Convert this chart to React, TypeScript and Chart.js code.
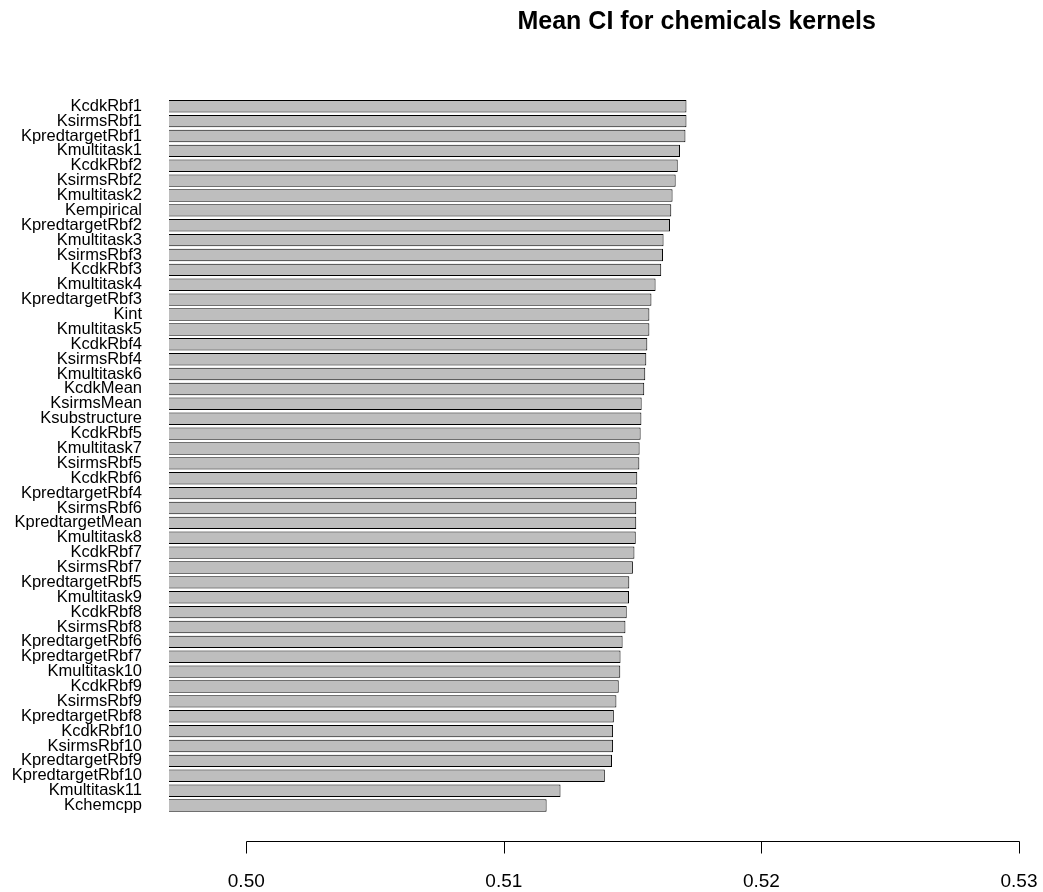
import React, { useEffect, useRef } from "react";
import { Chart, registerables } from "chart.js";

Chart.register(...registerables);

const TITLE = "Mean CI for chemicals kernels";

const kernelNames: string[] = [
  "KcdkRbf1", "KsirmsRbf1", "KpredtargetRbf1", "Kmultitask1", "KcdkRbf2", "KsirmsRbf2",
  "Kmultitask2", "Kempirical", "KpredtargetRbf2", "Kmultitask3", "KsirmsRbf3", "KcdkRbf3",
  "Kmultitask4", "KpredtargetRbf3", "Kint", "Kmultitask5", "KcdkRbf4", "KsirmsRbf4",
  "Kmultitask6", "KcdkMean", "KsirmsMean", "Ksubstructure", "KcdkRbf5", "Kmultitask7",
  "KsirmsRbf5", "KcdkRbf6", "KpredtargetRbf4", "KsirmsRbf6", "KpredtargetMean", "Kmultitask8",
  "KcdkRbf7", "KsirmsRbf7", "KpredtargetRbf5", "Kmultitask9", "KcdkRbf8", "KsirmsRbf8",
  "KpredtargetRbf6", "KpredtargetRbf7", "Kmultitask10", "KcdkRbf9", "KsirmsRbf9", "KpredtargetRbf8",
  "KcdkRbf10", "KsirmsRbf10", "KpredtargetRbf9", "KpredtargetRbf10", "Kmultitask11", "Kchemcpp",
];

const meanCI: number[] = [
  0.51709, 0.51709, 0.51705, 0.51684, 0.51675, 0.51667,
  0.51655, 0.5165, 0.51645, 0.5162, 0.51618, 0.51611,
  0.51589, 0.51573, 0.51565, 0.51565, 0.51557, 0.51553,
  0.51549, 0.51545, 0.51535, 0.51534, 0.51531, 0.51527,
  0.51526, 0.51518, 0.51516, 0.51514, 0.51514, 0.51512,
  0.51507, 0.51501, 0.51487, 0.51486, 0.51477, 0.51472,
  0.51461, 0.51453, 0.51452, 0.51446, 0.51437, 0.51427,
  0.51424, 0.51424, 0.5142, 0.51392, 0.5122, 0.51166,
];

const xTicks: number[] = [0.5, 0.51, 0.52, 0.53];
const xMin = 0.497;
const xMax = 0.53;

const FONT = "'Liberation Sans', Arial, Helvetica, sans-serif";

const rAxisPlugin = {
  id: "rAxis",
  afterDraw(chart: any) {
    const sx = chart.scales.x;
    const ctx = chart.ctx;
    const y0 = Math.round(chart.chartArea.bottom + 28) + 0.5;
    const first = Math.round(sx.getPixelForValue(xTicks[0])) + 0.5;
    const last = Math.round(sx.getPixelForValue(xTicks[xTicks.length - 1])) + 0.5;
    ctx.save();
    ctx.strokeStyle = "#000";
    ctx.lineWidth = 1;
    ctx.beginPath();
    ctx.moveTo(first, y0);
    ctx.lineTo(last, y0);
    xTicks.forEach((v) => {
      const px = Math.round(sx.getPixelForValue(v)) + 0.5;
      ctx.moveTo(px, y0);
      ctx.lineTo(px, y0 + 12);
    });
    ctx.stroke();
    // main title
    ctx.fillStyle = "#000";
    ctx.font = `bold 25px ${FONT}`;
    ctx.textAlign = "center";
    ctx.textBaseline = "middle";
    ctx.fillText(TITLE, chart.width * 0.668, 22);
    ctx.restore();
  },
};

export default function App() {
  const ref = useRef<HTMLCanvasElement | null>(null);

  useEffect(() => {
    document.body.style.margin = "0";
    const canvas = ref.current;
    if (!canvas) return;
    const chart = new Chart(canvas, {
      type: "bar",
      data: {
        labels: kernelNames,
        datasets: [
          {
            data: meanCI,
            backgroundColor: "#BEBEBE",
            borderColor: "#000000",
            borderWidth: 1,
            borderSkipped: "start",
            categoryPercentage: 1,
            barPercentage: 1 / 1.2,
          },
        ],
      },
      options: {
        indexAxis: "y",
        responsive: false,
        animation: false,
        devicePixelRatio: 1,
        layout: { padding: { left: 0, right: 24, top: 98.8, bottom: 0 } },
        plugins: {
          legend: { display: false },
          tooltip: { enabled: false },
          title: { display: false },
        },
        scales: {
          x: {
            type: "linear",
            position: "bottom",
            min: xMin,
            max: xMax,
            afterBuildTicks: (scale: any) => {
              scale.ticks = xTicks.map((v) => ({ value: v }));
            },
            afterFit: (scale: any) => {
              scale.height = 79;
            },
            grid: {
              display: true,
              drawOnChartArea: false,
              drawTicks: true,
              tickLength: 57,
              tickColor: "rgba(0,0,0,0)",
              color: "rgba(0,0,0,0)",
            },
            border: { display: false },
            ticks: {
              color: "#000",
              font: { family: FONT, size: 19 },
              padding: 0,
              maxRotation: 0,
              autoSkip: false,
              callback: (v: any) => Number(v).toFixed(2),
            },
          },
          y: {
            type: "category",
            afterFit: (scale: any) => {
              scale.width = 169;
            },
            grid: { display: false, drawTicks: false },
            border: { display: false },
            ticks: {
              color: "#000",
              autoSkip: false,
              padding: 27,
              font: { family: FONT, size: 16.5 },
            },
          },
        },
      },
      plugins: [rAxisPlugin],
    });
    return () => chart.destroy();
  }, []);

  return (
    <div style={{ position: "fixed", left: 0, top: 0, width: 1043, height: 892, background: "#fff" }}>
      <canvas ref={ref} width={1043} height={892} />
    </div>
  );
}
